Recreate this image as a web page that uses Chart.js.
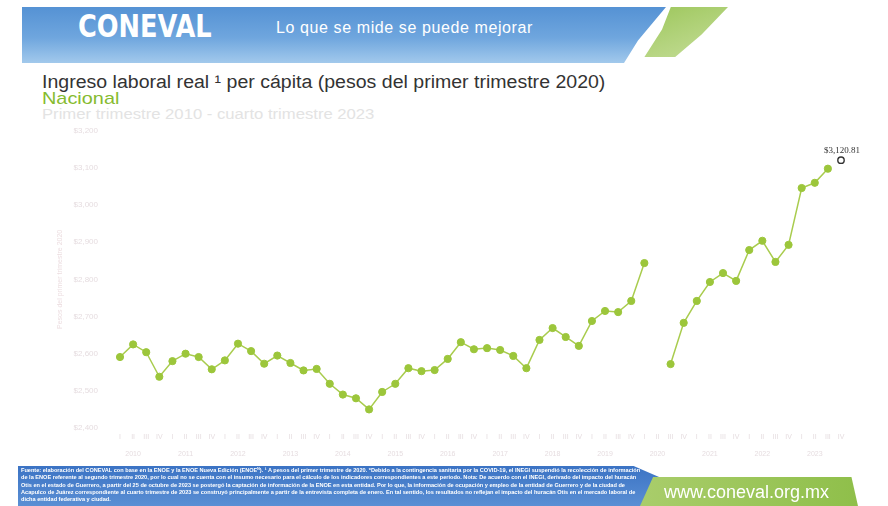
<!DOCTYPE html>
<html>
<head>
<meta charset="utf-8">
<script src="https://cdn.jsdelivr.net/npm/chart.js@4.4.0/dist/chart.umd.min.js"></script>
<style>
  body { margin: 0; width: 888px; height: 506px; background: #fff; position: relative; overflow: hidden; font-family: "Liberation Sans", Arial, sans-serif; }
  .banda { position: absolute; left: 22px; top: 7px; width: 700px; height: 56px;
    background: linear-gradient(180deg, #5592d4 0%, #6fa6de 55%, #a2c9ec 100%);
    clip-path: polygon(0 0, 100% 0, 92% 0, 88% 60%, 86% 100%, 0 100%); }
  .hoja { position: absolute; left: 640px; top: 7px; width: 88px; height: 50px;
    background: linear-gradient(160deg, #9cc65a, #c6de9a);
    clip-path: polygon(35% 0, 100% 0, 70% 55%, 40% 100%, 5% 100%, 25% 45%); }
  .logo { position: absolute; left: 78px; top: 8px; color: #fff; font-family: "DejaVu Sans Condensed", "DejaVu Sans", sans-serif;
    font-weight: bold; font-size: 30px; transform-origin: left top; transform: scale(0.95, 1.05); }
  .lema { position: absolute; left: 276px; top: 19px; color: #fff; font-size: 16px; letter-spacing: 0.6px; }
  .titulo { position: absolute; left: 42px; top: 72px; color: #333; font-size: 18px; transform-origin: left top; transform: scaleX(1.085); white-space: nowrap; }
  .nacional { position: absolute; left: 42px; top: 89px; color: #86bb2f; font-size: 17px; transform-origin: left top; transform: scaleX(1.17); }
  .periodo { position: absolute; left: 42px; top: 106px; color: #e3e3e3; font-size: 14px; transform-origin: left top; transform: scaleX(1.19); white-space: nowrap; }
  .pie { position: absolute; left: 18px; top: 466px; width: 648px; height: 40px;
    background: linear-gradient(180deg, #3b73c4, #5a8fd4);
    clip-path: polygon(0 0, 95% 0, 100% 35%, 100% 100%, 0 100%); }
  .notas { position: absolute; left: 21px; top: 467px; width: 620px; color: #fff; font-size: 5.6px; line-height: 7.3px; font-weight: bold; }
  .verde { position: absolute; left: 640px; top: 477px; width: 218px; height: 29px;
    background: linear-gradient(90deg, #a9cd6b, #8fbf4a);
    clip-path: polygon(6% 0, 97% 0, 100% 100%, 0 100%); }
  .web { position: absolute; left: 664px; top: 482px; color: #fff; font-size: 18px; }
  #lienzo { position: absolute; left: 52px; top: 112px; }
</style>
</head>
<body>
<div class="banda"></div>
<div class="hoja"></div>
<div class="logo">CONEVAL</div>
<div class="lema">Lo que se mide se puede mejorar</div>
<div class="titulo">Ingreso laboral real ¹ per cápita (pesos del primer trimestre 2020)</div>
<div class="nacional">Nacional</div>
<div class="periodo">Primer trimestre 2010 - cuarto trimestre 2023</div>
<canvas id="lienzo" width="818" height="358"></canvas>
<div class="pie"></div>
<div class="notas">Fuente: elaboración del CONEVAL con base en la ENOE y la ENOE Nueva Edición (ENOEᴺ). ¹ A pesos del primer trimestre de 2020. *Debido a la contingencia sanitaria por la COVID-19, el INEGI suspendió la recolección de información de la ENOE referente al segundo trimestre 2020, por lo cual no se cuenta con el insumo necesario para el cálculo de los indicadores correspondientes a este periodo. Nota: De acuerdo con el INEGI, derivado del impacto del huracán Otis en el estado de Guerrero, a partir del 25 de octubre de 2023 se postergó la captación de información de la ENOE en esta entidad. Por lo que, la información de ocupación y empleo de la entidad de Guerrero y de la ciudad de Acapulco de Juárez correspondiente al cuarto trimestre de 2023 se construyó principalmente a partir de la entrevista completa de enero. En tal sentido, los resultados no reflejan el impacto del huracán Otis en el mercado laboral de dicha entidad federativa y ciudad.</div>
<div class="verde"></div>
<div class="web">www.coneval.org.mx</div>

<script>
// trimestres 2010-I a 2023-IV
const anios = [2010, 2011, 2012, 2013, 2014, 2015, 2016, 2017, 2018, 2019, 2020, 2021, 2022, 2023];
const trimestres = ['I', 'II', 'III', 'IV'];

// ingreso laboral real per cápita (pesos 1T2020)
const ingreso = [
  2591, 2625, 2604, 2538,   // 2010
  2580, 2600, 2591, 2558,   // 2011
  2582, 2627, 2607, 2573,   // 2012
  2595, 2575, 2555, 2559,   // 2013
  2519, 2490, 2480, 2450,   // 2014
  2497, 2519, 2561, 2553,   // 2015
  2556, 2586, 2631, 2612,   // 2016
  2615, 2610, 2594, 2561,   // 2017
  2637, 2669, 2645, 2621,   // 2018
  2688, 2715, 2712, 2742,   // 2019
  2844, null, 2572, 2683,   // 2020 (II sin levantamiento)
  2742, 2793, 2817, 2796,   // 2021
  2879, 2904, 2847, 2893,   // 2022
  3046, 3060, 3098, null    // 2023
];
const ultimoValor = 3120.81;

const ejeY = { min: 2400, max: 3200, paso: 100 };

const etiquetas = [];
anios.forEach(a => trimestres.forEach((t, i) => etiquetas.push(i === 1 ? [t, String(a)] : [t, ''])));

const serieUltimo = ingreso.map(() => null);
serieUltimo[serieUltimo.length - 1] = ultimoValor;

const fmt = v => '$' + v.toLocaleString('en-US');

const etiquetaUltimo = {
  id: 'etiquetaUltimo',
  afterDatasetsDraw(chart) {
    const meta = chart.getDatasetMeta(1);
    const p = meta.data[meta.data.length - 1];
    const ctx = chart.ctx;
    ctx.save();
    ctx.font = '9px "Liberation Serif", serif';
    ctx.fillStyle = '#333';
    ctx.textAlign = 'center';
    ctx.fillText('$' + ultimoValor.toLocaleString('en-US', { minimumFractionDigits: 2 }), p.x + 1, p.y - 7);
    ctx.restore();
  }
};

new Chart(document.getElementById('lienzo'), {
  type: 'line',
  data: {
    labels: etiquetas,
    datasets: [{
      data: ingreso,
      borderColor: '#a9cc4e',
      borderWidth: 1.5,
      pointRadius: 3.6,
      pointBackgroundColor: '#9cc63b',
      pointBorderColor: '#9cc63b',
      pointBorderWidth: 1,
      spanGaps: false,
      tension: 0
    }, {
      data: serieUltimo,
      showLine: false,
      pointRadius: 3.2,
      pointBackgroundColor: '#fff',
      pointBorderColor: '#333',
      pointBorderWidth: 1.4
    }]
  },
  plugins: [etiquetaUltimo],
  options: {
    responsive: false,
    animation: false,
    layout: { padding: { top: 2, right: 29, left: 0, bottom: 0 } },
    plugins: { legend: { display: false }, tooltip: { enabled: false } },
    scales: {
      x: {
        grid: { display: false, drawTicks: false, tickLength: 0 },
        border: { display: false },
        ticks: { autoSkip: false, maxRotation: 0, color: '#e6dde0', font: { size: 7, lineHeight: 2.5 }, padding: 0 },
        afterFit: s => { s.height = 42; }
      },
      y: {
        min: ejeY.min,
        max: ejeY.max,
        grid: { display: false },
        border: { display: false },
        ticks: { stepSize: ejeY.paso, color: '#e6dde0', font: { size: 8 }, padding: 14, callback: fmt },
        title: { display: true, text: 'Pesos del primer trimestre 2020', color: '#ecdde0', font: { size: 7 } },
        afterFit: s => { s.width = 68; }
      }
    }
  }
});
</script>
</body>
</html>
